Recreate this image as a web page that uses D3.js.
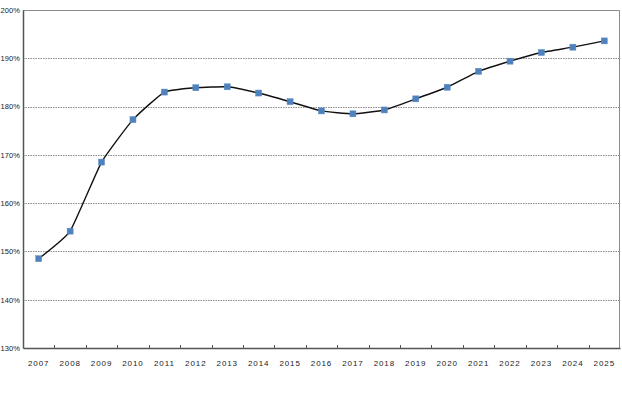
<!DOCTYPE html>
<html>
<head>
<meta charset="utf-8">
<script src="https://cdn.jsdelivr.net/npm/d3@7"></script>
<style>
  body { margin: 0; background: #fff; }
  svg text { font-family: "Liberation Sans", Arial, sans-serif; font-size: 8px; fill: #1a1a1a; }
  .xax text { letter-spacing: 0.9px; }
  .yax text { font-size: 7.5px; letter-spacing: 0.1px; }
</style>
</head>
<body>
<svg id="chart" width="622" height="408"></svg>
<script>
var years = ["2007","2008","2009","2010","2011","2012","2013","2014","2015","2016",
             "2017","2018","2019","2020","2021","2022","2023","2024","2025"];
var ratio = [148.5, 154.2, 168.5, 177.3, 183.0, 183.9, 184.1, 182.8, 181.0, 179.1,
             178.5, 179.3, 181.6, 184.0, 187.3, 189.4, 191.2, 192.3, 193.6];
var yTicks = [130, 140, 150, 160, 170, 180, 190, 200];

function drawChart() {
	var left = 23, right = 620, plotTop = 10, bottom = 348;
	var svg = d3.select("#chart");

	var x = d3.scaleBand().domain(years).range([left, right]);
	var y = d3.scaleLinear().domain([130, 200]).range([bottom, plotTop]);

	// grid lines
	svg.append("g").selectAll("line")
		.data(yTicks.filter(function(d) { return d > 130 && d < 200; }))
		.enter().append("line")
			.attr("x1", left).attr("x2", right)
			.attr("y1", function(d) { return Math.round(y(d)) + 0.5; })
			.attr("y2", function(d) { return Math.round(y(d)) + 0.5; })
			.attr("stroke", "#8a8a8a")
			.attr("stroke-width", 1)
			.attr("stroke-dasharray", "1.5,1");

	// plot border (top / right)
	svg.append("path")
		.attr("d", "M" + left + "," + (plotTop + 0.5) + "H" + (right - 0.5) + "V" + bottom)
		.attr("fill", "none")
		.attr("stroke", "#8c8c8c")
		.attr("stroke-width", 1);

	// y axis
	var yAxis = d3.axisLeft(y).tickValues(yTicks).tickSize(0).tickPadding(3)
		.tickFormat(function(d) { return d + "%"; });
	var gy = svg.append("g").attr("class", "yax")
		.attr("transform", "translate(" + left + ",0)").call(yAxis);
	gy.select(".domain").attr("stroke", "#555").attr("stroke-width", 1.5);
	gy.selectAll("text").attr("font-family", null).attr("font-size", null);

	// x axis
	var xAxis = d3.axisBottom(x).tickSize(0).tickPadding(12);
	var gx = svg.append("g").attr("class", "xax")
		.attr("transform", "translate(0," + bottom + ")").call(xAxis);
	gx.select(".domain").attr("stroke", "#555").attr("stroke-width", 1.5);
	gx.selectAll("text").attr("font-family", null).attr("font-size", null);

	// tick marks on category boundaries
	svg.append("g").selectAll("line")
		.data(years.slice(1))
		.enter().append("line")
			.attr("x1", function(d) { return Math.round(x(d)) + 0.5; })
			.attr("x2", function(d) { return Math.round(x(d)) + 0.5; })
			.attr("y1", bottom).attr("y2", bottom - 3)
			.attr("stroke", "#555");

	// line, only lightly smoothed
	var line = d3.line()
		.x(function(d, i) { return x(years[i]) + x.bandwidth() / 2; })
		.y(function(d) { return y(d); })
		.curve(d3.curveCardinal.tension(0.6));

	svg.append("path")
		.datum(ratio)
		.attr("d", line)
		.attr("fill", "none")
		.attr("stroke", "#111")
		.attr("stroke-width", 1.4);

	// markers
	svg.append("g").selectAll("rect")
		.data(ratio)
		.enter().append("rect")
			.attr("x", function(d, i) { return x(years[i]) + x.bandwidth() / 2 - 3; })
			.attr("y", function(d) { return y(d) - 3; })
			.attr("width", 6).attr("height", 6)
			.attr("fill", "#4f81bd")
			.attr("stroke", "#5b8cc6")
			.attr("stroke-width", 0.5);
}

drawChart();
</script>
</body>
</html>
